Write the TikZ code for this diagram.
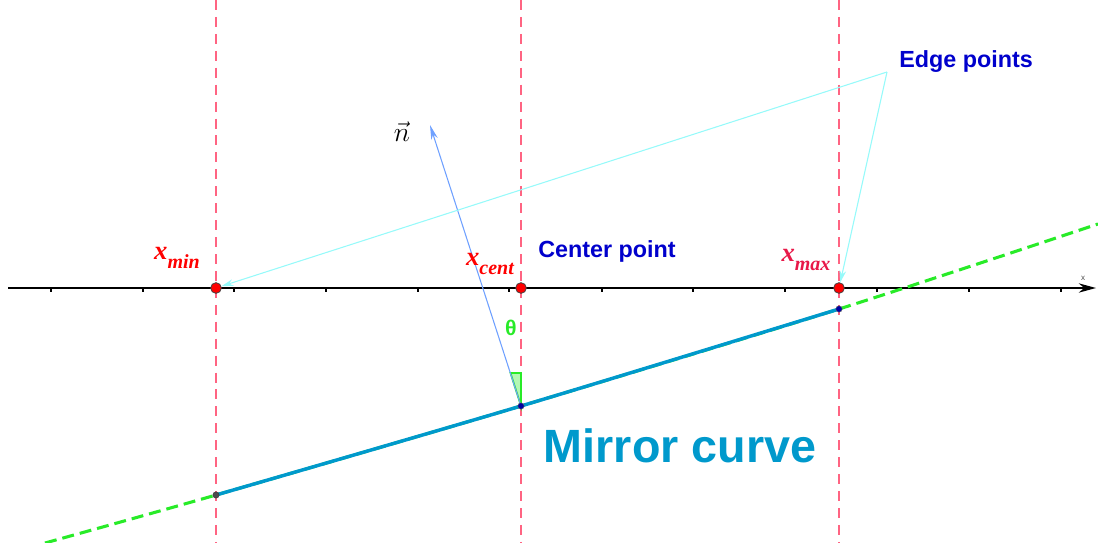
\documentclass[tikz,border=0pt]{standalone}
\usepackage{fontspec}
\setmainfont{Liberation Sans}
\newfontfamily\labserif{Liberation Serif}
\usetikzlibrary{
  arrows.meta,
  positioning
}
\definecolor{guidered}{RGB}{255,100,130}
\definecolor{mirrorblue}{RGB}{0,153,204}
\definecolor{labelblue}{RGB}{0,0,204}
\definecolor{curvegreen}{RGB}{40,235,40}
\definecolor{normalblue}{RGB}{110,160,255}
\definecolor{edgecyan}{RGB}{150,250,250}
\definecolor{maxred}{RGB}{232,24,72}
\newcommand{\xname}[1]{{\fontsize{20}{22}\selectfont x}\raisebox{-7pt}{\fontsize{15}{17}\selectfont #1}}

\begin{document}
\begin{tikzpicture}[
  x=0.75pt, y=-0.75pt,
  guide/.style={draw=guidered, line width=0.8pt, dash pattern=on 7.5pt off 5.2pt},
  redpt/.style={circle, fill=red, draw=black!75, line width=0.6pt, inner sep=0pt, minimum size=8pt},
  bluept/.style={circle, fill=labelblue!80!black, draw=black!60, line width=0.3pt, inner sep=0pt, minimum size=4.8pt},
  graypt/.style={circle, fill=black!70, draw=black!80, line width=0.3pt, inner sep=0pt, minimum size=4.8pt},
  xlab/.style={inner sep=0pt, font=\labserif\bfseries\itshape, text=#1},
  bluelab/.style={inner sep=0pt, font=\fontsize{17.5}{20}\selectfont\bfseries, text=labelblue},
  edgearrow/.style={draw=edgecyan, line width=0.8pt, -{Stealth[length=9pt, width=5pt]}}
]
\useasboundingbox (0,0) rectangle (1098,542);

% vertical guides
\draw[guide] (216,0) -- (216,542);
\draw[guide] (521,0) -- (521,542);
\draw[guide] (839,0) -- (839,542);

% x axis with ticks
\coordinate (axstart) at (8,288);
\coordinate (axend) at (1096,288);
\draw[line width=1.1pt, -{Stealth[length=13pt, width=7pt]}] (axstart) -- (axend);
\foreach \t in {51,143,234,326,418,509,602,693,785,877,969,1061}
  \draw[line width=1.1pt] (\t,288) -- (\t,292);
\node[inner sep=0pt, font=\fontsize{6}{7}\selectfont, text=black!70] (axlabel) at (1083,278) {x};

% mirror curve
\coordinate (gstart) at (45,543);
\coordinate (gend) at (1098,224);
\coordinate (cmin) at (216,495);
\coordinate (ccent) at (521,406);
\coordinate (cmax) at (839,309);
\draw[curvegreen, line width=2.3pt, dash pattern=on 9pt off 4.5pt]
  plot[smooth] coordinates {(gstart) (cmin) (ccent) (cmax) (gend)};
\draw[mirrorblue, line width=2.6pt]
  plot[smooth] coordinates {(cmin) (ccent) (cmax)};

% normal and angle
\coordinate (ntip) at (430,125);
\coordinate (angtop) at (521,373);
\coordinate (angside) at (510.5,373);
\draw[fill=curvegreen!35, draw=curvegreen, line width=1.3pt] (ccent) -- (angside) -- (angtop) -- cycle;
\draw[normalblue, line width=0.8pt, -{Stealth[length=11pt, width=5pt]}] (ccent) -- (ntip);
\node[inner sep=0pt, font=\fontsize{16}{18}\selectfont\bfseries, text=curvegreen] (theta) at (511,328) {θ};
\node[inner sep=0pt, font=\fontsize{20}{22}\selectfont] (nvec) at (402,132) {$\vec{n}$};

% points
\node[graypt] (dotmin) at (cmin) {};
\node[bluept] (dotcent) at (ccent) {};
\node[bluept] (dotmax) at (cmax) {};
\node[redpt] (pmin) at (216,288) {};
\node[redpt] (pcent) at (521,288) {};
\node[redpt] (pmax) at (839,288) {};
\node[xlab=red] (labmin) at (177,258) {\xname{min}};
\node[xlab=red] (labcent) at (490,264) {\xname{cent}};
\node[xlab=maxred] (labmax) at (806,260) {\xname{max}};

% edge points
\coordinate (edgeapex) at (887,72);
\node[bluelab] (edgelab) at (966,62) {Edge points};
\draw[edgearrow] (edgeapex) -- (pmin);
\draw[edgearrow] (edgeapex) -- (pmax);

\node[bluelab] (centerlab) at (607,251) {Center point};
\node[inner sep=0pt, font=\fontsize{35}{40}\selectfont\bfseries, text=mirrorblue] (mirrorlab) at (680,446) {Mirror curve};

\end{tikzpicture}
\end{document}
